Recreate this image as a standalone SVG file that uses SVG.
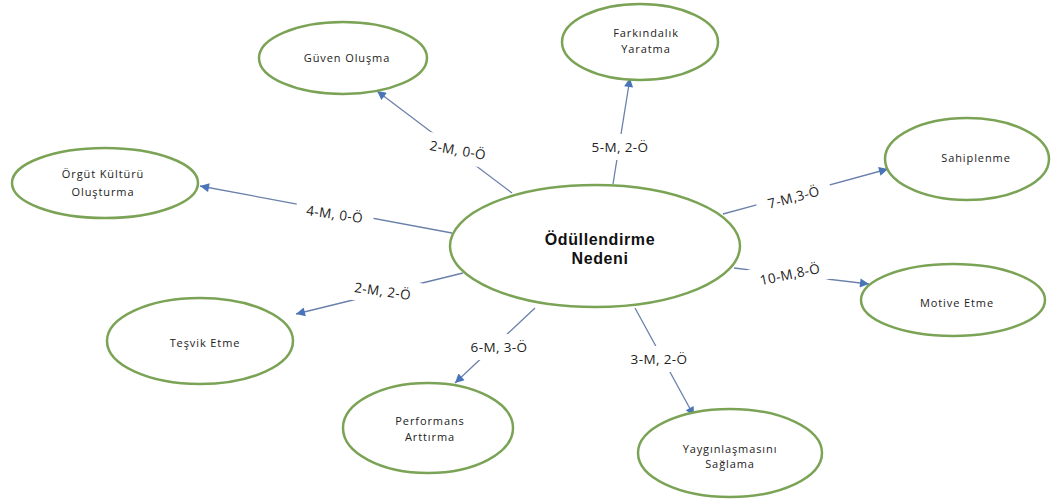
<svg xmlns="http://www.w3.org/2000/svg" width="1053" height="500" viewBox="0 0 1053 500">
<defs>
<marker id="arr" viewBox="0 0 10 10" refX="10" refY="5" markerWidth="11" markerHeight="9" markerUnits="userSpaceOnUse" orient="auto">
<path d="M0,0 L10,5 L0,10 z" fill="#4a74b8"/>
</marker>
<style>
.node{fill:#fff;stroke:#7ba356;stroke-width:2.5}
.t{font-family:"Open Sans","Liberation Sans",sans-serif;font-size:11px;letter-spacing:0.9px;fill:#222;text-anchor:middle}
.main{font-family:"Liberation Sans",Arial,sans-serif;font-size:16px;letter-spacing:0.6px;font-weight:bold;fill:#111;text-anchor:middle}
.edge{stroke:#6a80aa;stroke-width:1.3;fill:none;marker-end:url(#arr)}
.bg{fill:#fff}
.lbl{font-family:"Open Sans","Liberation Sans",sans-serif;font-size:13.5px;letter-spacing:0.4px;fill:#222;text-anchor:middle}
</style>
</defs>
<rect width="1053" height="500" fill="#fff"/>
<g id="connectors">
<line class="edge" x1="512" y1="193" x2="377" y2="91"/>
<line class="edge" x1="452" y1="233" x2="200" y2="186"/>
<line class="edge" x1="613" y1="184" x2="630" y2="78"/>
<line class="edge" x1="723" y1="214" x2="888" y2="169"/>
<line class="edge" x1="734" y1="268" x2="869" y2="284"/>
<line class="edge" x1="463" y1="273" x2="296" y2="314"/>
<line class="edge" x1="535" y1="308" x2="455" y2="383"/>
<line class="edge" x1="635" y1="308" x2="694" y2="416"/>
<g transform="translate(457,155) rotate(10)"><rect class="bg" x="-39" y="-18" width="78" height="26"/><text class="lbl">2-M, 0-Ö</text></g>
<g transform="translate(334,219) rotate(8)"><rect class="bg" x="-39" y="-18" width="78" height="26"/><text class="lbl">4-M, 0-Ö</text></g>
<g transform="translate(620,152)"><rect class="bg" x="-39" y="-18" width="78" height="26"/><text class="lbl">5-M, 2-Ö</text></g>
<g transform="translate(795,202) rotate(-15)"><rect class="bg" x="-38" y="-18" width="76" height="26"/><text class="lbl">7-M,3-Ö</text></g>
<g transform="translate(791,279) rotate(-12)"><rect class="bg" x="-41" y="-18" width="82" height="26"/><text class="lbl">10-M,8-Ö</text></g>
<g transform="translate(382,296) rotate(8)"><rect class="bg" x="-39" y="-18" width="78" height="26"/><text class="lbl">2-M, 2-Ö</text></g>
<g transform="translate(499,352)"><rect class="bg" x="-39" y="-18" width="78" height="26"/><text class="lbl">6-M, 3-Ö</text></g>
<g transform="translate(659,364)"><rect class="bg" x="-39" y="-18" width="78" height="26"/><text class="lbl">3-M, 2-Ö</text></g>
</g>
<g id="center">
<ellipse class="node" cx="595" cy="246" rx="145" ry="61"/>
<text class="main"><tspan x="600" y="245">Ödüllendirme</tspan><tspan x="600" y="264">Nedeni</tspan></text>
</g>
<g id="guven">
<ellipse class="node" cx="343" cy="58" rx="84" ry="36"/>
<text class="t" x="347" y="62">Güven Oluşma</text>
</g>
<g id="farkindalik">
<ellipse class="node" cx="640" cy="42" rx="78" ry="38"/>
<text class="t"><tspan x="646" y="37">Farkındalık</tspan><tspan x="646" y="53">Yaratma</tspan></text>
</g>
<g id="orgut">
<ellipse class="node" cx="105" cy="183" rx="93" ry="35"/>
<text class="t"><tspan x="103" y="178">Örgüt Kültürü</tspan><tspan x="103" y="196">Oluşturma</tspan></text>
</g>
<g id="sahiplenme">
<ellipse class="node" cx="967" cy="159" rx="82" ry="41"/>
<text class="t" x="976" y="162">Sahiplenme</text>
</g>
<g id="motive">
<ellipse class="node" cx="953" cy="300" rx="92" ry="36"/>
<text class="t" x="957" y="307">Motive Etme</text>
</g>
<g id="tesvik">
<ellipse class="node" cx="200" cy="341" rx="93" ry="43"/>
<text class="t" x="205" y="347">Teşvik Etme</text>
</g>
<g id="performans">
<ellipse class="node" cx="428" cy="428" rx="85" ry="45"/>
<text class="t"><tspan x="430" y="425">Performans</tspan><tspan x="430" y="441">Arttırma</tspan></text>
</g>
<g id="yayginlasma">
<ellipse class="node" cx="730" cy="453" rx="92" ry="44"/>
<text class="t"><tspan x="730" y="453">Yaygınlaşmasını</tspan><tspan x="730" y="468">Sağlama</tspan></text>
</g>
</svg>
